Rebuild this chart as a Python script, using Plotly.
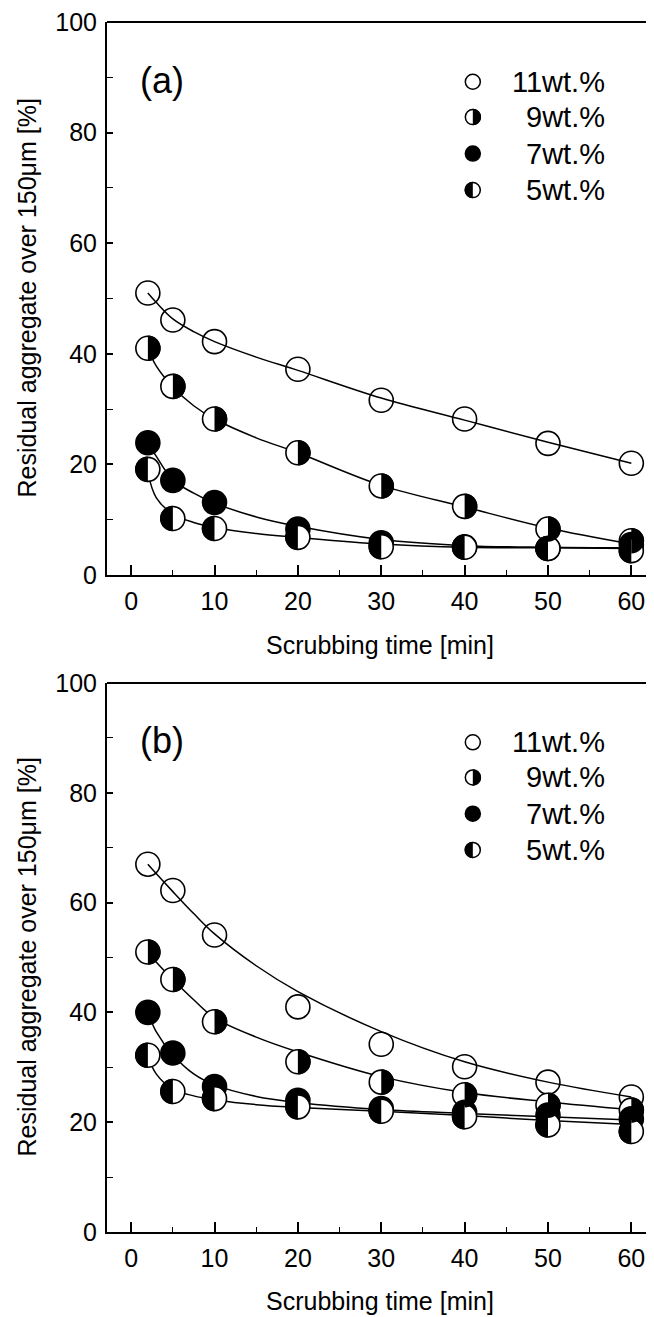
import plotly.graph_objects as go

# ---------------- data ----------------
time_min = [2, 5, 10, 20, 30, 40, 50, 60]
series_labels = ["11wt.%", "9wt.%", "7wt.%", "5wt.%"]
series_style = ["open", "right", "full", "left"]   # which half is black

# panel (a)
a_11 = [51.0, 46.1, 42.2, 37.2, 31.6, 28.2, 23.8, 20.2]
a_9 = [41.0, 34.1, 28.2, 22.1, 16.1, 12.4, 8.3, 6.2]
a_7 = [23.9, 17.1, 13.1, 8.3, 5.8, 5.1, 4.8, 5.5]
a_5 = [19.1, 10.2, 8.4, 6.8, 5.1, 5.0, 4.8, 4.4]

# panel (b)
b_11 = [67.0, 62.2, 54.1, 41.0, 34.2, 30.1, 27.3, 24.6]
b_9 = [51.0, 46.0, 38.3, 31.0, 27.3, 25.0, 23.1, 22.2]
b_7 = [40.0, 32.6, 26.5, 24.0, 22.5, 21.8, 21.3, 20.6]
b_5 = [32.2, 25.6, 24.3, 22.8, 22.0, 21.0, 19.5, 18.3]

# fitted curves
fit_time = [2, 3, 5, 7.5, 10, 15, 20, 30, 40, 50, 60]
a_fit_11 = [51.0, 49.3, 46.3, 44.0, 42.2, 39.4, 37.0, 32.0, 28.0, 24.0, 20.2]
a_fit_9 = [41.0, 37.8, 34.0, 30.6, 28.2, 24.8, 22.1, 16.2, 12.3, 8.5, 5.6]
a_fit_7 = [24.0, 21.5, 17.2, 14.8, 13.0, 10.5, 8.8, 6.4, 5.3, 5.0, 4.9]
a_fit_5 = [18.5, 14.0, 11.0, 9.5, 8.6, 7.5, 6.8, 5.6, 5.0, 4.9, 4.8]

b_fit_11 = [67.0, 65.3, 62.0, 58.0, 54.3, 48.5, 43.8, 36.5, 31.0, 27.3, 24.6]
b_fit_9 = [51.0, 49.2, 46.0, 42.3, 39.0, 35.5, 32.8, 28.3, 25.4, 23.7, 22.3]
b_fit_7 = [40.0, 36.5, 32.3, 28.8, 26.8, 24.7, 23.6, 22.3, 21.6, 21.0, 20.4]
b_fit_5 = [32.0, 28.8, 26.0, 24.8, 24.1, 23.2, 22.7, 22.0, 21.2, 20.3, 19.6]

x_ticks = [0, 10, 20, 30, 40, 50, 60]
y_ticks = [0, 20, 40, 60, 80, 100]

panels = [
    dict(name="(a)", xa="x", ya="y", pts=[a_11, a_9, a_7, a_5],
         fits=[a_fit_11, a_fit_9, a_fit_7, a_fit_5]),
    dict(name="(b)", xa="x2", ya="y2", pts=[b_11, b_9, b_7, b_5],
         fits=[b_fit_11, b_fit_9, b_fit_7, b_fit_5]),
]

# ---------------- styling ----------------
FONT = "Liberation Sans"
MS = 24          # marker diameter px
MLW = 1.6        # marker outline width
LEG_MS = 15
K = 0.5523


def half_path(r, side):
    s = 1 if side == "right" else -1
    return (f"M 0,{r} C {s*K*r:.3f},{r} {s*r},{K*r:.3f} {s*r},0 "
            f"C {s*r},{-K*r:.3f} {s*K*r:.3f},{-r} 0,{-r} Z")


fig = go.Figure()
shapes = []
annotations = []

for p in panels:
    xa, ya = p["xa"], p["ya"]
    xd, yd = f"{xa} domain", f"{ya} domain"
    # curves
    for fit in p["fits"]:
        fig.add_trace(go.Scatter(x=fit_time, y=fit, mode="lines", xaxis=xa, yaxis=ya,
                                 line=dict(color="black", width=1.5, shape="spline", smoothing=1.0),
                                 showlegend=False, hoverinfo="skip"))
    # markers
    for vals, style, lab in zip(p["pts"], series_style, series_labels):
        if style == "open":
            marker = dict(symbol="circle-open", size=MS, color="black", line=dict(width=MLW, color="black"))
        elif style == "full":
            marker = dict(symbol="circle", size=MS, color="black", line=dict(width=MLW, color="black"))
        else:
            marker = dict(symbol="circle", size=MS, color="white", line=dict(width=MLW, color="black"))
        fig.add_trace(go.Scatter(x=time_min, y=vals, mode="markers", xaxis=xa, yaxis=ya,
                                 marker=marker, name=lab, showlegend=False))
        if style in ("left", "right"):
            for xv, yv in zip(time_min, vals):
                shapes.append(dict(type="path", xref=xa, yref=ya, xsizemode="pixel", ysizemode="pixel",
                                   xanchor=xv, yanchor=yv, path=half_path(MS / 2 + MLW / 2, style),
                                   fillcolor="black", line=dict(width=0), layer="above"))

    # frame: top spine black, right spine faint
    shapes.append(dict(type="line", xref=xd, yref=yd, x0=0, x1=1, y0=1, y1=1,
                       line=dict(color="black", width=2), layer="above"))
    shapes.append(dict(type="line", xref=xd, yref=yd, x0=1, x1=1, y0=0, y1=1,
                       line=dict(color="#c8c8c8", width=1, dash="dot"), layer="above"))

    # panel label
    annotations.append(dict(text=p["name"], xref=xd, yref=yd,
                            x=0.1007, y=0.895, showarrow=False, xanchor="center", yanchor="middle",
                            font=dict(family=FONT, size=36, color="black")))
    # legend (manual)
    leg_rows = [0.892, 0.828, 0.762, 0.696]
    for ry, style, lab in zip(leg_rows, series_style, series_labels):
        r = LEG_MS / 2
        shapes.append(dict(type="circle", xref=xd, yref=yd,
                           xsizemode="pixel", ysizemode="pixel", xanchor=0.670, yanchor=ry,
                           x0=-r, x1=r, y0=-r, y1=r,
                           fillcolor="black" if style == "full" else "white",
                           line=dict(color="black", width=1.5), layer="above"))
        if style in ("left", "right"):
            shapes.append(dict(type="path", xref=xd, yref=yd,
                               xsizemode="pixel", ysizemode="pixel", xanchor=0.670, yanchor=ry,
                               path=half_path(r + 0.75, style),
                               fillcolor="black", line=dict(width=0), layer="above"))
        annotations.append(dict(text=lab, xref=xd, yref=yd,
                                x=0.916, y=ry, showarrow=False, xanchor="right", yanchor="middle",
                                font=dict(family=FONT, size=29, color="black")))
    # axis titles
    annotations.append(dict(text="Scrubbing time [min]", xref=xd, yref=yd,
                            x=0.5, y=-0.126, showarrow=False, xanchor="center", yanchor="middle",
                            font=dict(family=FONT, size=25, color="black")))
    annotations.append(dict(text="Residual aggregate over 150\u03bcm [%]", xref="paper",
                            yref=yd, x=-0.1465, y=0.5, textangle=-90,
                            showarrow=False, xanchor="center", yanchor="middle",
                            font=dict(family=FONT, size=25, color="black")))

xaxis_common = dict(range=[-2.9, 62.6], tickvals=x_ticks, ticks="inside", ticklen=10, tickwidth=1.5,
                    tickcolor="black", showline=True, linecolor="black", linewidth=2, mirror=False,
                    showgrid=False, zeroline=False, ticklabelstandoff=3, ticklabeloverflow="allow",
                    minor=dict(ticks="inside", ticklen=5, tickwidth=1.2, dtick=5, tickcolor="black",
                               showgrid=False),
                    tickfont=dict(family=FONT, size=25, color="black"))
yaxis_common = dict(range=[0, 100], tickvals=y_ticks, ticks="inside", ticklen=6, tickwidth=1.5,
                    tickcolor="black", showline=True, linecolor="black", linewidth=2, mirror=False,
                    showgrid=False, zeroline=False, ticklabelstandoff=3, ticklabeloverflow="allow",
                    minor=dict(ticks="inside", ticklen=6, tickwidth=1.2, dtick=10, tickcolor="black",
                               showgrid=False),
                    tickfont=dict(family=FONT, size=25, color="black"))

# the page body adds an 8 px margin, so the figure is 8 px smaller and shifted
fig.update_layout(
    width=646, height=1309,
    margin=dict(l=99, r=1, t=14, b=85),
    paper_bgcolor="white", plot_bgcolor="white",
    showlegend=False,
    xaxis=dict(**xaxis_common, anchor="y"),
    yaxis=dict(**yaxis_common, domain=[0.543, 1.0], anchor="x"),
    xaxis2=dict(**xaxis_common, anchor="y2"),
    yaxis2=dict(**yaxis_common, domain=[0.0, 0.4537], anchor="x2"),
    shapes=shapes,
    annotations=annotations,
)

fig.write_html("out.html")
